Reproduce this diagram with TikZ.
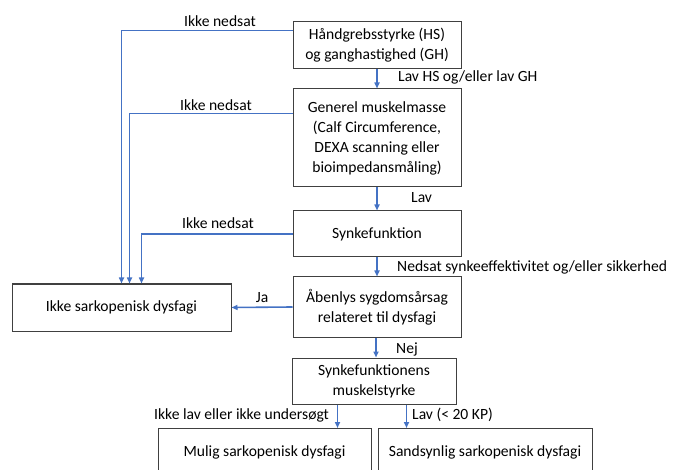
\documentclass[tikz,border=0pt]{standalone}
\usepackage{fontspec}
\setmainfont{Carlito}
\usetikzlibrary{arrows.meta}
\definecolor{cblue}{HTML}{4472C4}
\definecolor{cbord}{HTML}{404040}
\tikzset{
  box/.style={draw=cbord, line width=1pt, fill=white, align=center, inner sep=2pt,
    font=\fontsize{15.6}{20}\selectfont},
  arr/.style={draw=cblue, line width=1.6pt, -{Triangle[length=6pt,width=5pt]}},
  lbl/.style={font=\fontsize{15.6}{18}\selectfont, inner sep=1pt}
}
\begin{document}
\begin{tikzpicture}[x=1pt,y=-1pt]
\useasboundingbox (0,0) rectangle (685,470);
\clip (0,0) rectangle (685,470);
\node[box, minimum width=168, minimum height=47] (hs) at (377,45.5) {Håndgrebsstyrke (HS)\\og ganghastighed (GH)};
\node[box, minimum width=168, minimum height=98] (mm) at (377,138) {Generel muskelmasse\\(Calf Circumference,\\DEXA scanning eller\\bioimpedansmåling)};
\node[box, minimum width=168, minimum height=46] (sf) at (377,234) {Synkefunktion};
\node[box, minimum width=168, minimum height=60] (ab) at (377,307) {Åbenlys sygdomsårsag\\relateret til dysfagi};
\node[box, minimum width=219, minimum height=47] (isd) at (121.5,307.5) {Ikke sarkopenisk dysfagi};
\node[box, minimum width=164, minimum height=46] (ms) at (374,381) {Synkefunktionens\\muskelstyrke};
\node[box, minimum width=213, minimum height=48, anchor=north] (mul) at (264.5,428) {Mulig sarkopenisk dysfagi};
\node[box, minimum width=214, minimum height=48, anchor=north] (san) at (485,428) {Sandsynlig sarkopenisk dysfagi};

\coordinate (hsl) at ([yshift=-9pt]hs.north west);
\coordinate (mml) at ([yshift=-25pt]mm.north west);
\draw[arr] (hsl) -| ([xshift=110pt]isd.north west);
\draw[arr] (mml) -| ([xshift=118pt]isd.north west);
\draw[arr] (sf.west) -| ([xshift=130pt]isd.north west);
\draw[arr] (ab.west) -- (isd.east);
\draw[arr] (hs.south) -- (mm.north);
\draw[arr] (mm.south) -- (sf.north);
\draw[arr] (sf.south) -- (ab.north);
\draw[arr] ([xshift=-1pt]ab.south) -- ([xshift=2pt]ms.north);
\draw[arr] (ms.south -| mul.north east) ++(-34,0) coordinate (a1) -- (a1 |- mul.north);
\draw[arr] (ms.south -| san.north west) ++(29,0) coordinate (a2) -- (a2 |- san.north);

\node[lbl] (l1) at (220,21) {Ikke nedsat};
\node[lbl] (l2) at (216,105) {Ikke nedsat};
\node[lbl] (l3) at (218,223) {Ikke nedsat};
\node[lbl, anchor=west] (l4) at (397,77) {Lav HS og/eller lav GH};
\node[lbl, anchor=west] (l5) at (410,198) {Lav};
\node[lbl, anchor=west] (l6) at (396,267) {Nedsat synkeeffektivitet og/eller sikkerhed};
\node[lbl] (l7) at (262,298) {Ja};
\node[lbl, anchor=west] (l8) at (395,349) {Nej};
\node[lbl, anchor=east] (l9) at (330,415) {Ikke lav eller ikke undersøgt};
\node[lbl, anchor=west] (l10) at (411,415) {Lav (< 20 KP)};
\end{tikzpicture}
\end{document}
